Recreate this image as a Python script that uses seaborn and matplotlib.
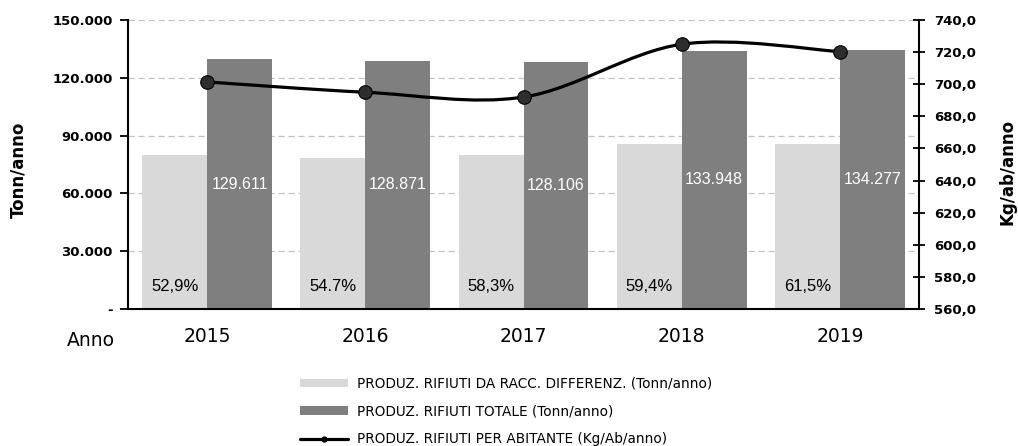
import numpy as np
import pandas as pd
import matplotlib
matplotlib.use("Agg")
import matplotlib.pyplot as plt
import seaborn as sns
from matplotlib.path import Path
from matplotlib.patches import PathPatch, Patch
from matplotlib.lines import Line2D
from matplotlib.ticker import FuncFormatter, MultipleLocator, FixedLocator

# Dati
anni = ["2015", "2016", "2017", "2018", "2019"]
rifiuti_diff = [80000, 78600, 79900, 85600, 85700]          # Tonn/anno
rifiuti_totale = [129611, 128871, 128106, 133948, 134277]   # Tonn/anno
rifiuti_abitante = [701.4, 695.0, 692.0, 724.9, 720.3]      # Kg/ab/anno
percentuali = ["52,9%", "54.7%", "58,3%", "59,4%", "61,5%"]

serie_labels = [
    "PRODUZ. RIFIUTI DA RACC. DIFFERENZ. (Tonn/anno)",
    "PRODUZ. RIFIUTI TOTALE (Tonn/anno)",
    "PRODUZ. RIFIUTI PER ABITANTE (Kg/Ab/anno)",
]

chiaro = "#d9d9d9"
scuro = "#7f7f7f"

df = pd.DataFrame({
    "Anno": anni * 2,
    "Serie": [serie_labels[0]] * len(anni) + [serie_labels[1]] * len(anni),
    "Valore": rifiuti_diff + rifiuti_totale,
})

sns.set_style("white")
plt.rcParams["font.family"] = ["DejaVu Sans"]
plt.rcParams["text.color"] = "black"
plt.rcParams["xtick.color"] = "black"
plt.rcParams["ytick.color"] = "black"

fig = plt.figure(figsize=(10.18, 4.46), dpi=100)
ax = fig.add_axes([0.1257, 0.3072, 0.7771, 0.648])

sns.barplot(data=df, x="Anno", y="Valore", hue="Serie", order=anni,
            hue_order=serie_labels[:2], palette=[chiaro, scuro],
            width=0.82, saturation=1, legend=False, ax=ax, zorder=2,
            linewidth=0, edgecolor="none")

ax.set_xlim(-0.5, 4.5)
ax.set_ylim(0, 150000)
ax.yaxis.set_major_locator(MultipleLocator(30000))
ax.yaxis.set_major_formatter(FuncFormatter(
    lambda v, p: "-" if v == 0 else f"{v:,.0f}".replace(",", ".")))
ax.yaxis.grid(True, linestyle=(0, (5, 3)), color="#c4c4c4", linewidth=0.9)
ax.set_axisbelow(True)
ax.set_xlabel("")
ax.set_ylabel("")

ax.tick_params(axis="y", direction="out", length=6, width=1.3, labelsize=9.5, pad=5)
for t in ax.get_yticklabels():
    t.set_fontweight("bold")
ax.tick_params(axis="x", which="major", length=0, labelsize=13.5, pad=13)
ax.xaxis.set_minor_locator(FixedLocator(np.arange(-0.5, 5, 1)))
ax.tick_params(axis="x", which="minor", direction="out", length=5, width=1.3)

for s in ["left", "bottom"]:
    ax.spines[s].set_color("black")
    ax.spines[s].set_linewidth(1.5)
ax.spines["top"].set_visible(False)
ax.spines["right"].set_visible(False)

# etichette barre
ax.bar_label(ax.containers[1],
             labels=[f"{v:,.0f}".replace(",", ".") for v in rifiuti_totale],
             label_type="center", color="white", fontsize=11.5,
             family="Liberation Sans")
for rect, txt in zip(ax.containers[0], percentuali):
    ax.annotate(txt, xy=(rect.get_x() + rect.get_width() / 2, 0),
                xytext=(0, 11), textcoords="offset points",
                ha="center", va="bottom", fontsize=12,
                family="Liberation Sans", color="black")

# asse secondario: linea smussata
ax2 = ax.twinx()
ax2.set_ylim(560, 740)
ax2.yaxis.set_major_locator(MultipleLocator(20))
ax2.yaxis.set_major_formatter(FuncFormatter(lambda v, p: f"{v:.1f}".replace(".", ",")))
ax2.tick_params(axis="y", direction="inout", length=9, width=1.3, labelsize=9.5, pad=6)
for t in ax2.get_yticklabels():
    t.set_fontweight("bold")
for s in ["top", "left", "bottom"]:
    ax2.spines[s].set_visible(False)
ax2.spines["right"].set_color("black")
ax2.spines["right"].set_linewidth(1.5)

xs = np.arange(len(anni), dtype=float)
ys = np.array(rifiuti_abitante)
pts = np.column_stack([xs, ys])
verts = [pts[0]]
codes = [Path.MOVETO]
for i in range(len(pts) - 1):
    p0 = pts[i - 1] if i > 0 else pts[i]
    p1, p2 = pts[i], pts[i + 1]
    p3 = pts[i + 2] if i + 2 < len(pts) else pts[i + 1]
    verts += [p1 + (p2 - p0) / 6, p2 - (p3 - p1) / 6, p2]
    codes += [Path.CURVE4] * 3
ax2.add_patch(PathPatch(Path(verts, codes), facecolor="none",
                        edgecolor="black", linewidth=2.3, zorder=3))
sns.scatterplot(x=xs, y=ys, ax=ax2, s=95, color="#2e2e2e",
                edgecolor="black", linewidth=0.8, zorder=4, legend=False)
ax2.set_xlim(-0.5, 4.5)

# testi assi
fig.text(0.018, 0.62, "Tonn/anno", rotation=90, ha="center", va="center",
         fontsize=12, fontweight="bold")
fig.text(0.990, 0.615, "Kg/ab/anno", rotation=90, ha="center", va="center",
         fontsize=12, fontweight="bold")
fig.text(0.066, 1 - 340 / 446, "Anno", ha="left", va="center", fontsize=13.5)

# legenda
handles = [
    Patch(facecolor=chiaro, edgecolor="none"),
    Patch(facecolor=scuro, edgecolor="none"),
    Line2D([0], [0], color="black", linewidth=2.3, marker="o", markersize=3.5),
]
fig.legend(handles, serie_labels, loc="upper left",
           bbox_to_anchor=(0.295, 0.155), frameon=False, fontsize=9.8,
           handlelength=3.5, handleheight=0.6, handletextpad=0.7,
           labelspacing=1.0, borderpad=0, borderaxespad=0)

fig.savefig("out.png", dpi=100)
